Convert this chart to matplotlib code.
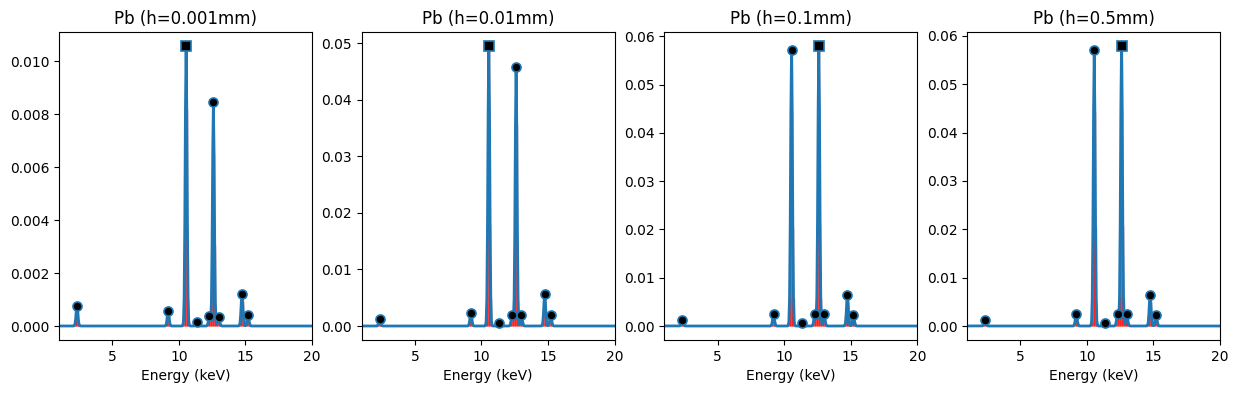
import numpy as np
import matplotlib
matplotlib.use("Agg")
import matplotlib.pyplot as plt

# peak energies (keV), shared by all panels
peak_energy = [2.35, 9.2, 10.55, 11.35, 12.3, 12.6, 13.0, 14.75, 15.2]

# peak heights
h_0001 = [0.00075, 0.00057, 0.01058, 0.00014, 0.00038, 0.00845, 0.00034, 0.0012, 0.00041]
h_001 = [0.0012, 0.00225, 0.0495, 0.0006, 0.0019, 0.0458, 0.0019, 0.0056, 0.0019]
h_01 = [0.0012, 0.0024, 0.0571, 0.0007, 0.0024, 0.0580, 0.0024, 0.0064, 0.0022]
h_05 = [0.0012, 0.0024, 0.0570, 0.0007, 0.0024, 0.0579, 0.0024, 0.0064, 0.0022]

titles = ['Pb (h=0.001mm)', 'Pb (h=0.01mm)', 'Pb (h=0.1mm)', 'Pb (h=0.5mm)']
heights = [h_0001, h_001, h_01, h_05]

energy = np.arange(0, 25.0001, 0.05)
sigma = 0.07    # detector broadening

fig, axes = plt.subplots(1, 4, figsize=(12.4, 3.93), dpi=100)
fig.subplots_adjust(left=59/1240, right=1220/1240, top=1-32/393, bottom=1-340/393, wspace=0.197)

for ax, title, h in zip(axes, titles, heights):
    e = np.array(peak_energy)
    h = np.array(h)
    spec = np.zeros_like(energy)
    for ei, hi in zip(e, h):
        spec += hi * np.exp(-(energy - ei)**2 / (2 * sigma**2))

    ax.vlines(energy, 0, spec, color='red', alpha=0.6, lw=1)
    ax.plot(energy, spec, color='C0', lw=2)

    imax = np.argmax(h)
    rest = np.arange(len(h)) != imax
    ax.plot(e[rest], h[rest], 'o', color='black', mec='C0', mew=1.2, ms=6.5)
    ax.plot(e[imax], h[imax], 's', color='black', mec='C0', mew=1.2, ms=6.5)

    ax.set_xlim(1, 20)
    ax.set_xticks([5, 10, 15, 20])
    ax.set_title(title)
    ax.set_xlabel('Energy (keV)')

fig.savefig('out.png', dpi=100)
